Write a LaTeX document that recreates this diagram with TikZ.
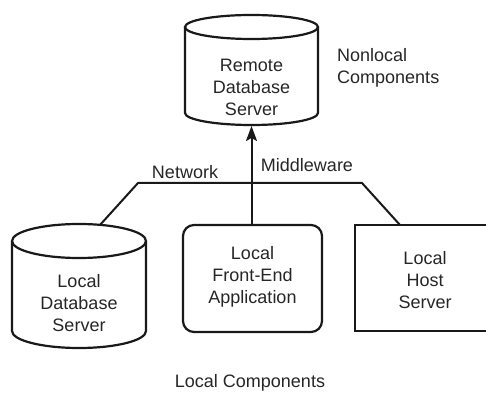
\documentclass[tikz,border=0pt]{standalone}
\usepackage{fontspec}
\setmainfont{Liberation Sans}
\usetikzlibrary{arrows.meta}
\tikzset{
  lbl/.style={font=\fontsize{18}{22}\selectfont, align=center, inner sep=0pt, text=black!85},
  edge/.style={line width=2pt, draw=black!90},
  boxline/.style={line width=2.2pt, draw=black!90},
}
\begin{document}
\begin{tikzpicture}[x=1pt,y=1pt]
\useasboundingbox (0,0) rectangle (486,396);
\clip (0,0) rectangle (486,396);
% Remote database cylinder
\draw[boxline] (185,369) -- (185,283) arc[start angle=180,end angle=360,x radius=66.5,y radius=12] -- (318,369);
\draw[boxline] (251.5,369) ellipse[x radius=66.5,y radius=12];
\node[lbl] (remote) at (251.5,309) {Remote\\Database\\Server};
\coordinate (rbot) at (251.5,270);
% Local database cylinder
\draw[boxline] (12,155) -- (12,65) arc[start angle=180,end angle=360,x radius=67,y radius=17] -- (146,155);
\draw[boxline] (79,155) ellipse[x radius=67,y radius=17];
\node[lbl] (ldb) at (79,92.5) {Local\\Database\\Server};
\coordinate (ldbtop) at (100,171);
% Front-end application
\draw[boxline, rounded corners=11pt] (183,64) rectangle (322,171);
\node[lbl] (fe) at (252.5,119) {Local\\Front-End\\Application};
\coordinate (fetop) at (251.5,171);
% Host server
\draw[boxline] (355,65) rectangle (540,171);
\node[lbl] (host) at (425,116) {Local\\Host\\Server};
\coordinate (hosttop) at (400,171);
% Network
\coordinate (nl) at (138,213);
\coordinate (nr) at (362,213);
\draw[edge, line join=miter] (ldbtop) -- (nl) -- (nr) -- (hosttop);
% Middleware arrow
\draw[edge, -{Stealth[length=15pt,width=11pt,inset=3pt]}] (fetop) -- (rbot);
% Labels
\node[lbl] (network) at (185,224) {Network};
\node[lbl] (mw) at (307,231) {Middleware};
\node[lbl, anchor=west, align=left] (nonlocal) at (337,328) {Nonlocal\\Components};
\node[lbl] (localc) at (250,13) {Local Components};
\end{tikzpicture}
\end{document}
